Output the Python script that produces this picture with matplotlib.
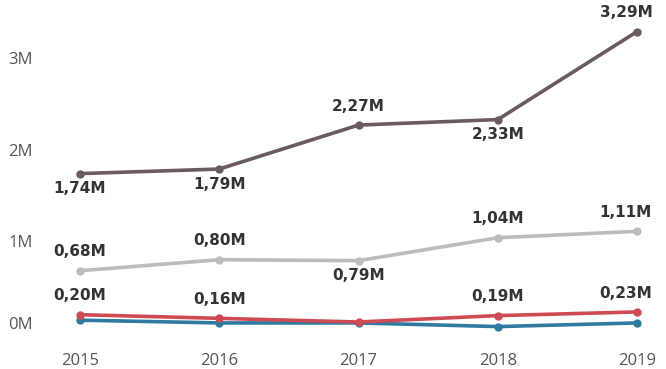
import matplotlib
matplotlib.use("Agg")
import matplotlib.pyplot as plt
import matplotlib.transforms as mtransforms

# données (millions)
years = [2015, 2016, 2017, 2018, 2019]
dark = [1.74, 1.79, 2.27, 2.33, 3.29]
grey = [0.68, 0.80, 0.79, 1.04, 1.11]
red = [0.20, 0.16, 0.12, 0.19, 0.23]
blue = [0.14, 0.11, 0.11, 0.07, 0.11]
yticks = [0, 1, 2, 3]
ytick_labels = ["0M", "1M", "2M", "3M"]

# position des étiquettes : +1 au-dessus, -1 en dessous, 0 aucune
dark_pos = [-1, -1, 1, -1, 1]
grey_pos = [1, 1, -1, 1, 1]
red_pos = [1, 1, 0, 1, 1]

W, H = 666, 369
fig = plt.figure(figsize=(W / 100, H / 100), dpi=100)
# axe placé en pixels : x 2015->80px, 2019->637px ; y 0->333px, 3.29->32px
ppy = (637 - 80) / 4.0
ppm = 91.6
x0, x1 = 2015 - 80 / ppy, 2015 + (665 - 80) / ppy
ytop_px, ybot_px = 2.0, 347.0
y1 = (333 - ytop_px) / ppm
y0 = (333 - ybot_px) / ppm
ax = fig.add_axes([0, (H - ybot_px) / H, 665 / W, (ybot_px - ytop_px) / H])
ax.set_xlim(x0, x1)
ax.set_ylim(y0, y1)
for s in ax.spines.values():
    s.set_visible(False)

series = [
    (dark, "#6b5a5f", dark_pos),
    (grey, "#bcbcbc", grey_pos),
    (blue, "#2f7aa0", None),
    (red, "#cf4b53", red_pos),
]
for vals, col, pos in series:
    ax.plot(years, vals, color=col, lw=2.6, marker="o", ms=5, solid_capstyle="round", zorder=3)
    if pos is None:
        continue
    for i, (x, v) in enumerate(zip(years, vals)):
        if pos[i] == 0:
            continue
        dy = 13.5 if pos[i] > 0 else -11
        dx = -8 if i == 4 else 0
        ax.annotate(f"{v:.2f}M".replace(".", ","), (x, v), xytext=(dx, dy),
                    textcoords="offset points", ha="center", va="center",
                    fontsize=11, fontweight="bold", family="DejaVu Sans",
                    color="#333333", zorder=5)

ax.set_xticks(years)
ax.set_xticklabels([str(y) for y in years])
ax.set_yticks(yticks)
ax.set_yticklabels(ytick_labels)
ax.tick_params(axis="x", length=0, pad=4, labelsize=12, labelcolor="#555555")
ax.tick_params(axis="y", length=0, pad=-5.8, labelsize=12, labelcolor="#555555")
for lab in ax.get_xticklabels() + ax.get_yticklabels():
    lab.set_family("Open Sans")
for lab in ax.get_yticklabels():
    lab.set_ha("left")
# le libellé 0M est un peu remonté dans l'original
ylabs = ax.get_yticklabels()
ylabs[0].set_transform(ylabs[0].get_transform() + mtransforms.ScaledTranslation(0, 10 / 100, fig.dpi_scale_trans))

fig.savefig("out.png", dpi=100)
